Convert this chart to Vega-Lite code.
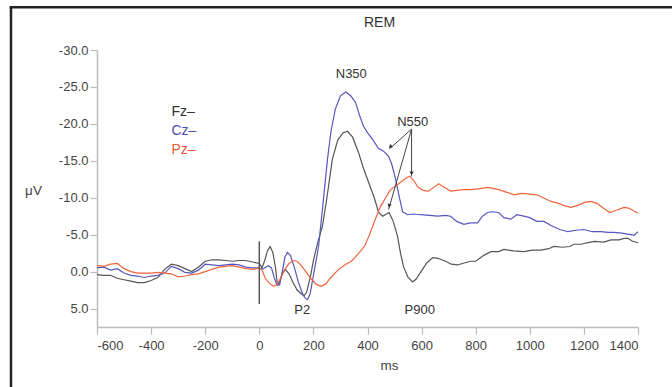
{
  "$schema": "https://vega.github.io/schema/vega-lite/v6.json",
  "autosize": "none",
  "width": 541,
  "height": 277,
  "padding": {"left": 97, "top": 50, "right": 34, "bottom": 60},
  "background": "white",
  "config": {
    "view": {"stroke": null},
    "font": "Liberation Sans",
    "axis": {"grid": false, "domainColor": "#bbbbbb", "domainWidth": 1.5, "tickColor": "#bbbbbb", "tickSize": 7, "tickWidth": 1.2,
      "labelColor": "#444", "labelFontSize": 13, "labelFont": "Liberation Sans",
      "titleColor": "#444", "titleFontSize": 13.5, "titleFontWeight": "normal", "titleFont": "Liberation Sans"},
    "axisX": {"tickCount": 20, "labelPadding": 5},
    "axisY": {"tickCount": 8, "labelPadding": 2}
  },
  "title": {"text": "REM", "fontSize": 14, "fontWeight": "normal", "color": "#333", "frame": "group", "anchor": "middle", "offset": -31, "baseline": "middle", "dx": 12, "font": "Liberation Sans"},
  "layer": [
    {
      "data": {"values": [
        {"ch":"Fz","t":-600,"v":0.4},{"ch":"Fz","t":-575,"v":0.5},{"ch":"Fz","t":-550,"v":0.5},{"ch":"Fz","t":-525,"v":0.9},{"ch":"Fz","t":-500,"v":1.1},{"ch":"Fz","t":-475,"v":1.3},{"ch":"Fz","t":-450,"v":1.5},{"ch":"Fz","t":-425,"v":1.5},{"ch":"Fz","t":-400,"v":1.2},{"ch":"Fz","t":-375,"v":0.8},{"ch":"Fz","t":-350,"v":-0.3},{"ch":"Fz","t":-325,"v":-1.0},{"ch":"Fz","t":-300,"v":-0.8},{"ch":"Fz","t":-275,"v":-0.4},{"ch":"Fz","t":-250,"v":0.0},{"ch":"Fz","t":-225,"v":-0.6},{"ch":"Fz","t":-200,"v":-1.4},{"ch":"Fz","t":-175,"v":-1.6},{"ch":"Fz","t":-150,"v":-1.6},{"ch":"Fz","t":-125,"v":-1.5},{"ch":"Fz","t":-100,"v":-1.4},{"ch":"Fz","t":-75,"v":-1.5},{"ch":"Fz","t":-50,"v":-1.5},{"ch":"Fz","t":-25,"v":-1.3},{"ch":"Fz","t":0,"v":-1.1},{"ch":"Fz","t":10,"v":-0.5},{"ch":"Fz","t":20,"v":-1.5},{"ch":"Fz","t":30,"v":-2.8},{"ch":"Fz","t":40,"v":-3.4},{"ch":"Fz","t":50,"v":-2.6},{"ch":"Fz","t":60,"v":-0.5},{"ch":"Fz","t":67,"v":1.8},{"ch":"Fz","t":75,"v":1.5},{"ch":"Fz","t":85,"v":0.2},{"ch":"Fz","t":96,"v":-0.3},{"ch":"Fz","t":110,"v":0.3},{"ch":"Fz","t":125,"v":1.5},{"ch":"Fz","t":140,"v":2.5},{"ch":"Fz","t":155,"v":3.0},{"ch":"Fz","t":165,"v":3.3},{"ch":"Fz","t":175,"v":2.8},{"ch":"Fz","t":190,"v":0.5},{"ch":"Fz","t":200,"v":-1.5},{"ch":"Fz","t":215,"v":-3.8},{"ch":"Fz","t":233,"v":-6.1},{"ch":"Fz","t":250,"v":-10.0},{"ch":"Fz","t":270,"v":-15.2},{"ch":"Fz","t":290,"v":-17.8},{"ch":"Fz","t":310,"v":-18.8},{"ch":"Fz","t":326,"v":-19.0},{"ch":"Fz","t":345,"v":-18.2},{"ch":"Fz","t":367,"v":-16.1},{"ch":"Fz","t":385,"v":-14.0},{"ch":"Fz","t":404,"v":-12.1},{"ch":"Fz","t":425,"v":-10.0},{"ch":"Fz","t":441,"v":-8.0},{"ch":"Fz","t":456,"v":-7.5},{"ch":"Fz","t":470,"v":-7.8},{"ch":"Fz","t":480,"v":-8.0},{"ch":"Fz","t":495,"v":-6.8},{"ch":"Fz","t":511,"v":-4.8},{"ch":"Fz","t":522,"v":-2.5},{"ch":"Fz","t":533,"v":-0.7},{"ch":"Fz","t":550,"v":0.8},{"ch":"Fz","t":567,"v":1.4},{"ch":"Fz","t":580,"v":1.0},{"ch":"Fz","t":596,"v":0.1},{"ch":"Fz","t":620,"v":-1.2},{"ch":"Fz","t":641,"v":-1.9},{"ch":"Fz","t":660,"v":-1.8},{"ch":"Fz","t":689,"v":-1.4},{"ch":"Fz","t":710,"v":-1.0},{"ch":"Fz","t":733,"v":-0.9},{"ch":"Fz","t":760,"v":-1.2},{"ch":"Fz","t":781,"v":-1.4},{"ch":"Fz","t":800,"v":-1.4},{"ch":"Fz","t":830,"v":-2.2},{"ch":"Fz","t":856,"v":-2.7},{"ch":"Fz","t":885,"v":-2.7},{"ch":"Fz","t":904,"v":-3.0},{"ch":"Fz","t":940,"v":-2.8},{"ch":"Fz","t":978,"v":-2.7},{"ch":"Fz","t":1010,"v":-2.9},{"ch":"Fz","t":1041,"v":-2.9},{"ch":"Fz","t":1070,"v":-3.1},{"ch":"Fz","t":1089,"v":-3.4},{"ch":"Fz","t":1120,"v":-3.3},{"ch":"Fz","t":1148,"v":-3.4},{"ch":"Fz","t":1163,"v":-3.7},{"ch":"Fz","t":1190,"v":-3.7},{"ch":"Fz","t":1211,"v":-3.9},{"ch":"Fz","t":1240,"v":-4.1},{"ch":"Fz","t":1274,"v":-4.0},{"ch":"Fz","t":1300,"v":-4.3},{"ch":"Fz","t":1330,"v":-4.3},{"ch":"Fz","t":1348,"v":-4.5},{"ch":"Fz","t":1363,"v":-4.5},{"ch":"Fz","t":1380,"v":-4.1},{"ch":"Fz","t":1400,"v":-3.9},

        {"ch":"Cz","t":-600,"v":-0.5},{"ch":"Cz","t":-575,"v":-0.6},{"ch":"Cz","t":-550,"v":-0.2},{"ch":"Cz","t":-525,"v":-0.4},{"ch":"Cz","t":-500,"v":0.2},{"ch":"Cz","t":-475,"v":0.5},{"ch":"Cz","t":-450,"v":0.6},{"ch":"Cz","t":-425,"v":0.8},{"ch":"Cz","t":-400,"v":0.6},{"ch":"Cz","t":-375,"v":0.5},{"ch":"Cz","t":-350,"v":0.2},{"ch":"Cz","t":-325,"v":-0.7},{"ch":"Cz","t":-300,"v":-0.4},{"ch":"Cz","t":-275,"v":0.1},{"ch":"Cz","t":-250,"v":0.2},{"ch":"Cz","t":-225,"v":-0.2},{"ch":"Cz","t":-200,"v":-1.0},{"ch":"Cz","t":-175,"v":-0.9},{"ch":"Cz","t":-150,"v":-0.8},{"ch":"Cz","t":-125,"v":-0.9},{"ch":"Cz","t":-100,"v":-1.0},{"ch":"Cz","t":-75,"v":-0.9},{"ch":"Cz","t":-50,"v":-0.6},{"ch":"Cz","t":-25,"v":-0.5},{"ch":"Cz","t":0,"v":-0.5},{"ch":"Cz","t":10,"v":-0.3},{"ch":"Cz","t":20,"v":-0.5},{"ch":"Cz","t":33,"v":-0.8},{"ch":"Cz","t":45,"v":-0.5},{"ch":"Cz","t":55,"v":0.8},{"ch":"Cz","t":65,"v":1.8},{"ch":"Cz","t":75,"v":1.8},{"ch":"Cz","t":85,"v":0.0},{"ch":"Cz","t":95,"v":-2.0},{"ch":"Cz","t":104,"v":-2.6},{"ch":"Cz","t":115,"v":-2.2},{"ch":"Cz","t":130,"v":-0.5},{"ch":"Cz","t":145,"v":1.5},{"ch":"Cz","t":160,"v":3.0},{"ch":"Cz","t":170,"v":3.6},{"ch":"Cz","t":178,"v":3.8},{"ch":"Cz","t":188,"v":3.0},{"ch":"Cz","t":200,"v":0.5},{"ch":"Cz","t":210,"v":-1.5},{"ch":"Cz","t":219,"v":-3.4},{"ch":"Cz","t":235,"v":-9.0},{"ch":"Cz","t":252,"v":-15.2},{"ch":"Cz","t":265,"v":-19.0},{"ch":"Cz","t":281,"v":-22.0},{"ch":"Cz","t":300,"v":-23.8},{"ch":"Cz","t":319,"v":-24.3},{"ch":"Cz","t":338,"v":-23.8},{"ch":"Cz","t":356,"v":-22.9},{"ch":"Cz","t":370,"v":-21.2},{"ch":"Cz","t":385,"v":-19.7},{"ch":"Cz","t":400,"v":-18.8},{"ch":"Cz","t":419,"v":-17.9},{"ch":"Cz","t":440,"v":-16.7},{"ch":"Cz","t":459,"v":-16.3},{"ch":"Cz","t":478,"v":-15.6},{"ch":"Cz","t":490,"v":-14.5},{"ch":"Cz","t":504,"v":-12.5},{"ch":"Cz","t":518,"v":-10.0},{"ch":"Cz","t":530,"v":-8.1},{"ch":"Cz","t":548,"v":-7.7},{"ch":"Cz","t":570,"v":-7.8},{"ch":"Cz","t":596,"v":-7.7},{"ch":"Cz","t":630,"v":-7.6},{"ch":"Cz","t":659,"v":-7.5},{"ch":"Cz","t":690,"v":-7.6},{"ch":"Cz","t":707,"v":-7.5},{"ch":"Cz","t":730,"v":-6.8},{"ch":"Cz","t":756,"v":-6.4},{"ch":"Cz","t":780,"v":-6.6},{"ch":"Cz","t":807,"v":-6.6},{"ch":"Cz","t":825,"v":-7.5},{"ch":"Cz","t":844,"v":-8.0},{"ch":"Cz","t":860,"v":-8.1},{"ch":"Cz","t":885,"v":-8.0},{"ch":"Cz","t":904,"v":-7.3},{"ch":"Cz","t":930,"v":-7.1},{"ch":"Cz","t":952,"v":-7.7},{"ch":"Cz","t":978,"v":-7.5},{"ch":"Cz","t":1000,"v":-7.3},{"ch":"Cz","t":1026,"v":-6.8},{"ch":"Cz","t":1052,"v":-6.8},{"ch":"Cz","t":1080,"v":-6.2},{"ch":"Cz","t":1111,"v":-5.7},{"ch":"Cz","t":1141,"v":-5.4},{"ch":"Cz","t":1170,"v":-5.6},{"ch":"Cz","t":1200,"v":-5.7},{"ch":"Cz","t":1230,"v":-5.4},{"ch":"Cz","t":1263,"v":-5.4},{"ch":"Cz","t":1290,"v":-5.3},{"ch":"Cz","t":1311,"v":-5.3},{"ch":"Cz","t":1340,"v":-5.2},{"ch":"Cz","t":1374,"v":-5.0},{"ch":"Cz","t":1385,"v":-4.9},{"ch":"Cz","t":1400,"v":-5.4},

        {"ch":"Pz","t":-600,"v":-0.8},{"ch":"Pz","t":-575,"v":-0.7},{"ch":"Pz","t":-550,"v":-1.0},{"ch":"Pz","t":-525,"v":-1.1},{"ch":"Pz","t":-500,"v":-0.4},{"ch":"Pz","t":-475,"v":0.0},{"ch":"Pz","t":-450,"v":0.2},{"ch":"Pz","t":-425,"v":0.2},{"ch":"Pz","t":-400,"v":0.2},{"ch":"Pz","t":-375,"v":0.1},{"ch":"Pz","t":-350,"v":0.2},{"ch":"Pz","t":-325,"v":0.3},{"ch":"Pz","t":-300,"v":0.7},{"ch":"Pz","t":-275,"v":0.6},{"ch":"Pz","t":-250,"v":0.4},{"ch":"Pz","t":-225,"v":0.3},{"ch":"Pz","t":-200,"v":0.0},{"ch":"Pz","t":-175,"v":-0.3},{"ch":"Pz","t":-150,"v":-0.6},{"ch":"Pz","t":-125,"v":-0.7},{"ch":"Pz","t":-100,"v":-0.8},{"ch":"Pz","t":-75,"v":-0.6},{"ch":"Pz","t":-50,"v":-0.4},{"ch":"Pz","t":-25,"v":-0.3},{"ch":"Pz","t":0,"v":-0.5},{"ch":"Pz","t":10,"v":-0.2},{"ch":"Pz","t":22,"v":0.9},{"ch":"Pz","t":35,"v":1.5},{"ch":"Pz","t":52,"v":2.0},{"ch":"Pz","t":65,"v":1.8},{"ch":"Pz","t":80,"v":0.8},{"ch":"Pz","t":95,"v":-0.3},{"ch":"Pz","t":110,"v":-1.1},{"ch":"Pz","t":125,"v":-1.5},{"ch":"Pz","t":140,"v":-1.4},{"ch":"Pz","t":155,"v":-0.8},{"ch":"Pz","t":170,"v":-0.1},{"ch":"Pz","t":190,"v":0.9},{"ch":"Pz","t":210,"v":1.7},{"ch":"Pz","t":228,"v":2.0},{"ch":"Pz","t":245,"v":1.7},{"ch":"Pz","t":260,"v":1.0},{"ch":"Pz","t":280,"v":0.2},{"ch":"Pz","t":293,"v":-0.3},{"ch":"Pz","t":320,"v":-1.0},{"ch":"Pz","t":340,"v":-1.4},{"ch":"Pz","t":356,"v":-2.0},{"ch":"Pz","t":375,"v":-2.8},{"ch":"Pz","t":390,"v":-3.5},{"ch":"Pz","t":404,"v":-4.7},{"ch":"Pz","t":418,"v":-6.0},{"ch":"Pz","t":430,"v":-7.2},{"ch":"Pz","t":448,"v":-8.8},{"ch":"Pz","t":467,"v":-10.0},{"ch":"Pz","t":485,"v":-11.1},{"ch":"Pz","t":505,"v":-11.6},{"ch":"Pz","t":522,"v":-12.1},{"ch":"Pz","t":540,"v":-12.6},{"ch":"Pz","t":556,"v":-12.9},{"ch":"Pz","t":570,"v":-12.4},{"ch":"Pz","t":585,"v":-11.5},{"ch":"Pz","t":605,"v":-11.0},{"ch":"Pz","t":626,"v":-10.9},{"ch":"Pz","t":645,"v":-11.4},{"ch":"Pz","t":663,"v":-11.9},{"ch":"Pz","t":685,"v":-11.4},{"ch":"Pz","t":707,"v":-10.9},{"ch":"Pz","t":730,"v":-11.0},{"ch":"Pz","t":755,"v":-11.1},{"ch":"Pz","t":781,"v":-11.1},{"ch":"Pz","t":810,"v":-11.2},{"ch":"Pz","t":844,"v":-11.4},{"ch":"Pz","t":860,"v":-11.3},{"ch":"Pz","t":885,"v":-11.1},{"ch":"Pz","t":910,"v":-10.8},{"ch":"Pz","t":941,"v":-10.4},{"ch":"Pz","t":970,"v":-10.6},{"ch":"Pz","t":1000,"v":-10.5},{"ch":"Pz","t":1026,"v":-10.4},{"ch":"Pz","t":1050,"v":-10.0},{"ch":"Pz","t":1078,"v":-9.5},{"ch":"Pz","t":1100,"v":-9.3},{"ch":"Pz","t":1130,"v":-8.9},{"ch":"Pz","t":1152,"v":-8.7},{"ch":"Pz","t":1180,"v":-9.0},{"ch":"Pz","t":1205,"v":-9.4},{"ch":"Pz","t":1226,"v":-9.5},{"ch":"Pz","t":1250,"v":-9.2},{"ch":"Pz","t":1275,"v":-8.5},{"ch":"Pz","t":1296,"v":-8.0},{"ch":"Pz","t":1320,"v":-8.3},{"ch":"Pz","t":1348,"v":-8.7},{"ch":"Pz","t":1365,"v":-8.6},{"ch":"Pz","t":1385,"v":-8.2},{"ch":"Pz","t":1400,"v":-7.9}
      ]},
      "mark": {"type": "line", "strokeWidth": 1.2},
      "encoding": {
        "x": {"field": "t", "type": "quantitative",
          "scale": {"domain": [-600, 1400], "nice": false, "zero": false},
          "axis": {"values": [-600,-500,-400,-300,-200,-100,0,100,200,300,400,500,600,700,800,900,1000,1100,1200,1300,1400],
            "labelExpr": "datum.value % 200 === 0 ? replace(datum.label, '\u2212', '-') : ''",
            "format": "d",
            "title": "ms", "titleX": 292, "titleY": 38, "titleBaseline": "middle", "titleAlign": "center"}},
        "y": {"field": "v", "type": "quantitative",
          "scale": {"domain": [-30, 7.5], "nice": false, "zero": false, "reverse": true},
          "axis": {"values": [-30,-25,-20,-15,-10,-5,0,5], "format": ".1f",
            "labelExpr": "replace(datum.label, '\u2212', '-')",
            "title": "μV", "titleAngle": 0, "titleX": -64, "titleY": 140, "titleAlign": "center", "titleBaseline": "middle"}},
        "color": {"field": "ch", "type": "nominal", "scale": {"domain": ["Fz", "Cz", "Pz"], "range": ["#555555", "#5656c0", "#f0643c"]}, "legend": null}
      }
    },
    {"data": {"values": [{}]}, "mark": {"type": "rule", "color": "#555", "strokeWidth": 1.5}, "encoding": {"x": {"datum": 0}, "y": {"datum": -4.1}, "y2": {"datum": 4.4}}},
    {"data": {"values": [{}]}, "mark": {"type": "rule", "color": "#444", "strokeWidth": 1}, "encoding": {"x": {"datum": 563}, "y": {"datum": -19.3}, "x2": {"datum": 481}, "y2": {"datum": -16.6}}},
    {"data": {"values": [{}]}, "mark": {"type": "rule", "color": "#444", "strokeWidth": 1}, "encoding": {"x": {"datum": 563}, "y": {"datum": -19.3}, "x2": {"datum": 478}, "y2": {"datum": -8.4}}},
    {"data": {"values": [{}]}, "mark": {"type": "rule", "color": "#444", "strokeWidth": 1}, "encoding": {"x": {"datum": 563}, "y": {"datum": -19.3}, "x2": {"datum": 563}, "y2": {"datum": -12.9}}},
    {"data": {"values": [{}]}, "mark": {"type": "point", "shape": "triangle-up", "filled": true, "color": "#333", "size": 18, "opacity": 1, "angle": 228}, "encoding": {"x": {"datum": 484}, "y": {"datum": -16.9}}},
    {"data": {"values": [{}]}, "mark": {"type": "point", "shape": "triangle-up", "filled": true, "color": "#333", "size": 18, "opacity": 1, "angle": 196}, "encoding": {"x": {"datum": 480}, "y": {"datum": -8.9}}},
    {"data": {"values": [{}]}, "mark": {"type": "point", "shape": "triangle-up", "filled": true, "color": "#333", "size": 18, "opacity": 1, "angle": 180}, "encoding": {"x": {"datum": 563}, "y": {"datum": -13.3}}},
    {"data": {"values": [{}]}, "mark": {"type": "text", "fontSize": 13, "color": "#333", "font": "Liberation Sans"}, "encoding": {"x": {"datum": 340}, "y": {"datum": -26.7}, "text": {"value": "N350"}}},
    {"data": {"values": [{}]}, "mark": {"type": "text", "fontSize": 13, "color": "#333", "font": "Liberation Sans"}, "encoding": {"x": {"datum": 567}, "y": {"datum": -20.3}, "text": {"value": "N550"}}},
    {"data": {"values": [{}]}, "mark": {"type": "text", "fontSize": 13, "color": "#333", "font": "Liberation Sans"}, "encoding": {"x": {"datum": 159}, "y": {"datum": 5.2}, "text": {"value": "P2"}}},
    {"data": {"values": [{}]}, "mark": {"type": "text", "fontSize": 13, "color": "#333", "font": "Liberation Sans"}, "encoding": {"x": {"datum": 593}, "y": {"datum": 5.2}, "text": {"value": "P900"}}},
    {"data": {"values": [{}]}, "mark": {"type": "text", "fontSize": 14, "color": "#333", "align": "left", "font": "Liberation Sans"}, "encoding": {"x": {"datum": -325}, "y": {"datum": -21.6}, "text": {"value": "Fz–"}}},
    {"data": {"values": [{}]}, "mark": {"type": "text", "fontSize": 14, "color": "#4a4aae", "align": "left", "font": "Liberation Sans"}, "encoding": {"x": {"datum": -325}, "y": {"datum": -19.1}, "text": {"value": "Cz–"}}},
    {"data": {"values": [{}]}, "mark": {"type": "text", "fontSize": 14, "color": "#ee5535", "align": "left", "font": "Liberation Sans"}, "encoding": {"x": {"datum": -325}, "y": {"datum": -16.4}, "text": {"value": "Pz–"}}},
    {"data": {"values": [{}]}, "mark": {"type": "rule", "color": "#222", "strokeWidth": 2.5}, "encoding": {"x": {"datum": -918}, "y": {"datum": -35.8}, "y2": {"datum": 16}}},
    {"data": {"values": [{}]}, "mark": {"type": "rule", "color": "#222", "strokeWidth": 2.5}, "encoding": {"x": {"datum": -923}, "x2": {"datum": 1540}, "y": {"datum": -35.8}}}
  ]
}
